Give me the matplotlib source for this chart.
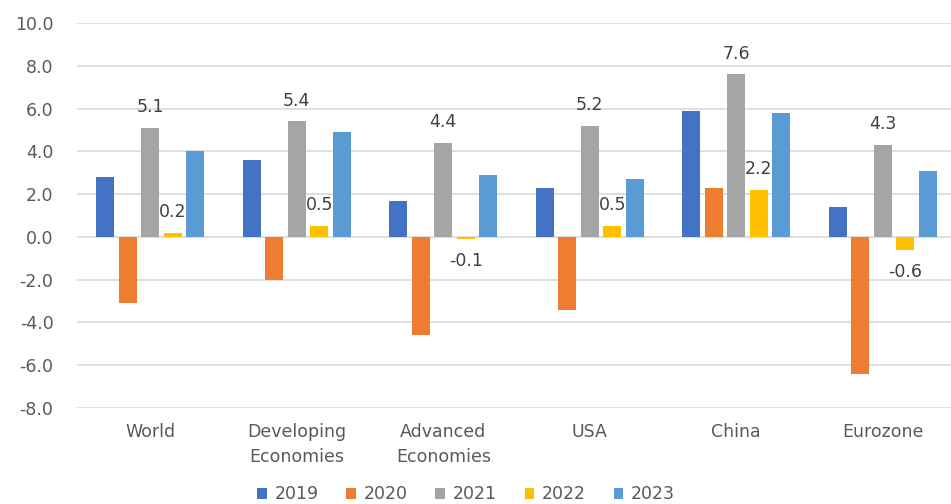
import matplotlib.pyplot as plt
from matplotlib.patches import Patch
import numpy as np

# Data
regions = ["World", "Developing\nEconomies", "Advanced\nEconomies", "USA", "China", "Eurozone"]
years = ["2019", "2020", "2021", "2022", "2023"]
g2019 = [2.8, 3.6, 1.7, 2.3, 5.9, 1.4]
g2020 = [-3.1, -2.0, -4.6, -3.4, 2.3, -6.4]
g2021 = [5.1, 5.4, 4.4, 5.2, 7.6, 4.3]
g2022 = [0.2, 0.5, -0.1, 0.5, 2.2, -0.6]
g2023 = [4.0, 4.9, 2.9, 2.7, 5.8, 3.1]
series = [g2019, g2020, g2021, g2022, g2023]
labelled = {"2021", "2022"}

colors = ["#4472C4", "#ED7D31", "#A5A5A5", "#FFC000", "#5B9BD5"]
text_color = "#595959"

fig = plt.figure(figsize=(9.51, 5.04), dpi=100)
ax = fig.add_axes([77 / 951, 96 / 504, 879 / 951, 385 / 504])

x = np.arange(len(regions))
width = 0.123
step = 0.153
for i, (yr, vals, c) in enumerate(zip(years, series, colors)):
    pos = x + (i - 2) * step
    bars = ax.bar(pos, vals, width=width, color=c, zorder=3)
    if yr in labelled:
        for b, v in zip(bars, vals):
            cx = b.get_x() + b.get_width() / 2
            off = 15 if v >= 0 else -16
            ax.annotate(f"{v:.1f}", (cx, v), xytext=(0, off), textcoords="offset points",
                        ha="center", va="center", fontsize=12.5, color="#404040")

ax.set_xlim(-0.5, len(regions) - 0.5)
ax.set_ylim(-8, 10)
ax.set_yticks(np.arange(-8, 10.1, 2))
ax.set_yticklabels([f"{v:.1f}" for v in np.arange(-8, 10.1, 2)])
ax.set_xticks(x)
ax.set_xticklabels(regions, linespacing=1.45)
ax.tick_params(axis="y", length=0, pad=17, labelsize=12.5, labelcolor=text_color)
ax.tick_params(axis="x", length=0, pad=11, labelsize=12.5, labelcolor=text_color)
ax.grid(axis="y", color="#D9D9D9", linewidth=1.2, zorder=0)
for s in ax.spines.values():
    s.set_visible(False)

handles = [Patch(facecolor=c, label=yr) for yr, c in zip(years, colors)]
fig.legend(handles=handles, loc="lower center", bbox_to_anchor=(0.49, -0.03), ncol=5,
           frameon=False, fontsize=12.5, handlelength=0.55, handleheight=0.55,
           handletextpad=0.45, columnspacing=1.6, labelcolor=text_color)

fig.savefig("out.png", dpi=100)
